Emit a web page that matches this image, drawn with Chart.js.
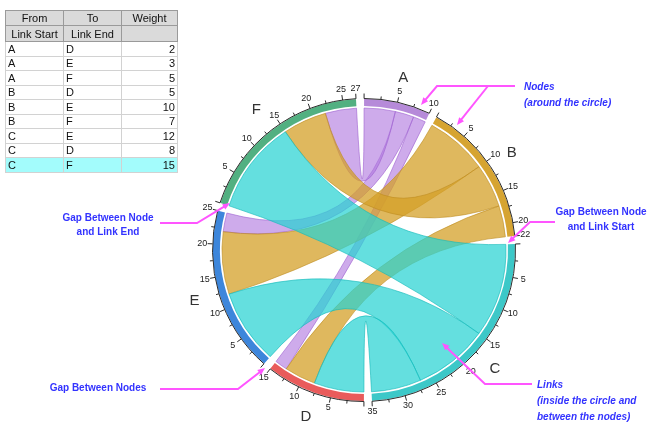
<!DOCTYPE html>
<html>
<head>
<meta charset="utf-8">
<script src="https://cdn.jsdelivr.net/npm/chart.js@4.4.1/dist/chart.umd.min.js"></script>
<style>
  html, body { margin: 0; padding: 0; background: #fff; }
  #wrap { position: relative; width: 650px; height: 432px; overflow: hidden; }
  #chord { position: absolute; left: 0; top: 0; }
  table.sheet {
    position: absolute; left: 5px; top: 10px;
    border-collapse: collapse; table-layout: fixed;
    font: 11px Arial, "Liberation Sans", sans-serif; color: #111;
    border: 1px solid #7a7a7a;
  }
  table.sheet td, table.sheet th {
    padding: 0 2px; border: 1px solid #d2d2d2; white-space: nowrap; overflow: hidden;
    font-weight: normal;
  }
  table.sheet th { background: #dadada; border-color: #9a9a9a; text-align: center; }
  table.sheet tr.h1 { height: 15px; }
  table.sheet tr.h2 { height: 16px; }
  table.sheet tr.row { height: 14.5px; }
  table.sheet td.num { text-align: right; }
  table.sheet tr.sel td { background: #a3fcfc; }
</style>
</head>
<body>
<div id="wrap">
  <canvas id="chord" width="650" height="432"></canvas>
  <table class="sheet" id="sheet"></table>
</div>
<script>
// nodes around the circle, clockwise from the top
const nodes = ["A", "B", "C", "D", "E", "F"];

// links (worksheet rows)
const linkFrom = ["A", "A", "A", "B", "B", "B", "C", "C", "C"];
const linkTo = ["D", "E", "F", "D", "E", "F", "E", "D", "F"];
const linkWeight = [2, 3, 5, 5, 10, 7, 12, 8, 15];

const nodeColors = ["#b68ad9", "#d6a431", "#3cc8c8", "#e95b5b", "#3d86db", "#52b081"];
const linkFill = { A: "rgba(176,120,222,0.62)", B: "rgba(212,160,40,0.75)", C: "rgba(40,210,210,0.72)" };
const linkEdge = { A: "rgba(160,100,210,0.8)", B: "rgba(190,140,30,0.75)", C: "rgba(20,185,185,0.8)" };

const GAP_UNITS = 1.2;
const RING_OUTER = 151;
const RING_INNER = 144;
const LINK_R = 142;
const MAJOR_STEP = 5;
const MINOR_STEP = 2.5;

const nodeTotals = nodes.map(n =>
  linkWeight.reduce((s, w, i) => s + (linkFrom[i] === n || linkTo[i] === n ? w : 0), 0)
);
const totalUnits = nodeTotals.reduce((a, b) => a + b, 0) + GAP_UNITS * nodes.length;
const gapDeg = 360 * GAP_UNITS / totalUnits;

// ring data: node, gap, node, gap ...
const ringData = [];
const ringColors = [];
nodeTotals.forEach((t, i) => {
  ringData.push(t, GAP_UNITS);
  ringColors.push(nodeColors[i], "rgba(0,0,0,0)");
});

// where each link sits on its two nodes: biggest weight first
const slots = linkWeight.map(() => ({}));
nodes.forEach(n => {
  const attached = [];
  linkWeight.forEach((w, i) => {
    if (linkFrom[i] === n) attached.push({ i, end: "from", w });
    if (linkTo[i] === n) attached.push({ i, end: "to", w });
  });
  attached.sort((a, b) => b.w - a.w);
  let pos = 0;
  attached.forEach(a => { slots[a.i][a.end] = pos; pos += a.w; });
});

// worksheet table
const sheet = document.getElementById("sheet");
sheet.innerHTML = `
  <colgroup><col style="width:58px"><col style="width:58px"><col style="width:56px"></colgroup>
  <tr class="h1"><th>From</th><th>To</th><th>Weight</th></tr>
  <tr class="h2"><th>Link Start</th><th>Link End</th><th></th></tr>
  ${linkWeight.map((w, i) => `
    <tr class="row${i === linkWeight.length - 1 ? " sel" : ""}">
      <td>${linkFrom[i]}</td><td>${linkTo[i]}</td><td class="num">${w}</td>
    </tr>`).join("")}
`;

function pt(cx, cy, r, a) {
  return [cx + r * Math.cos(a), cy + r * Math.sin(a)];
}

const chordPlugin = {
  id: "chord",
  afterDatasetsDraw(chart) {
    const ctx = chart.ctx;
    const arcs = chart.getDatasetMeta(0).data;
    const nodeArc = n => arcs[nodes.indexOf(n) * 2];
    const angleAt = (arc, total, v) => arc.startAngle + (arc.endAngle - arc.startAngle) * v / total;

    // links
    linkWeight.forEach((w, i) => {
      const sArc = nodeArc(linkFrom[i]);
      const tArc = nodeArc(linkTo[i]);
      const sTot = nodeTotals[nodes.indexOf(linkFrom[i])];
      const tTot = nodeTotals[nodes.indexOf(linkTo[i])];
      const cx = sArc.x, cy = sArc.y;
      const s0 = angleAt(sArc, sTot, slots[i].from);
      const s1 = angleAt(sArc, sTot, slots[i].from + w);
      const t0 = angleAt(tArc, tTot, slots[i].to);
      const t1 = angleAt(tArc, tTot, slots[i].to + w);
      ctx.save();
      ctx.beginPath();
      ctx.moveTo(...pt(cx, cy, LINK_R, s0));
      ctx.arc(cx, cy, LINK_R, s0, s1);
      ctx.quadraticCurveTo(cx, cy, ...pt(cx, cy, LINK_R, t0));
      ctx.arc(cx, cy, LINK_R, t0, t1);
      ctx.quadraticCurveTo(cx, cy, ...pt(cx, cy, LINK_R, s0));
      ctx.closePath();
      ctx.fillStyle = linkFill[linkFrom[i]];
      ctx.fill();
      ctx.lineWidth = 0.8;
      ctx.strokeStyle = linkEdge[linkFrom[i]];
      ctx.stroke();
      ctx.restore();
    });

    // axis line, ticks and labels of every node
    nodes.forEach((n, k) => {
      const arc = arcs[k * 2];
      const total = nodeTotals[k];
      const cx = arc.x, cy = arc.y;
      const rAxis = RING_OUTER + 0.5;
      ctx.save();
      ctx.strokeStyle = "#2a2a2a";
      ctx.lineWidth = 1;
      ctx.beginPath();
      ctx.arc(cx, cy, rAxis, arc.startAngle, arc.endAngle);
      ctx.stroke();

      const values = [];
      for (let v = 0; v <= total + 1e-9; v += MINOR_STEP) values.push(v);
      if (values[values.length - 1] !== total) values.push(total);
      ctx.font = "9px Arial, 'Liberation Sans', sans-serif";
      ctx.fillStyle = "#222";
      ctx.textAlign = "center";
      ctx.textBaseline = "middle";
      values.forEach(v => {
        const a = angleAt(arc, total, v);
        const major = v % MAJOR_STEP === 0 || v === total;
        const len = major ? 5 : 3;
        ctx.beginPath();
        ctx.moveTo(...pt(cx, cy, rAxis, a));
        ctx.lineTo(...pt(cx, cy, rAxis + len, a));
        ctx.stroke();
        if (major && v > 0) {
          ctx.fillText(String(v), ...pt(cx, cy, RING_OUTER + 11, a));
        }
      });

      const mid = (arc.startAngle + arc.endAngle) / 2;
      ctx.font = "15px Arial, 'Liberation Sans', sans-serif";
      ctx.fillStyle = "#333";
      ctx.fillText(n, ...pt(cx, cy, RING_OUTER + 26, mid));
      ctx.restore();
    });
  }
};

// callouts (annotation layer)
const notes = [
  { text: "Nodes", x: 524, y: 87, align: "left", italic: true },
  { text: "(around the circle)", x: 524, y: 103, align: "left", italic: true },
  { text: "Gap Between Node", x: 601, y: 212, align: "center" },
  { text: "and Link Start", x: 601, y: 227, align: "center" },
  { text: "Gap Between Node", x: 108, y: 218, align: "center" },
  { text: "and Link End", x: 108, y: 232, align: "center" },
  { text: "Gap Between Nodes", x: 98, y: 388, align: "center" },
  { text: "Links", x: 537, y: 385, align: "left", italic: true },
  { text: "(inside the circle and", x: 537, y: 401, align: "left", italic: true },
  { text: "between the nodes)", x: 537, y: 417, align: "left", italic: true }
];
const arrows = [
  [[515, 86], [437, 86], [421, 105]],
  [[488, 86], [457, 125]],
  [[555, 222], [530, 222], [508, 243]],
  [[160, 223], [197, 223], [230, 203]],
  [[160, 389], [238, 389], [265, 368]],
  [[532, 384], [485, 384], [442, 343]]
];

const calloutPlugin = {
  id: "callouts",
  afterDraw(chart) {
    const ctx = chart.ctx;
    ctx.save();
    ctx.strokeStyle = "#ff55ff";
    ctx.fillStyle = "#ff55ff";
    ctx.lineWidth = 2;
    arrows.forEach(line => {
      const [ex, ey] = line[line.length - 1];
      const [px, py] = line[line.length - 2];
      const ang = Math.atan2(ey - py, ex - px);
      const head = 8;
      ctx.beginPath();
      ctx.moveTo(...line[0]);
      line.slice(1, -1).forEach(p => ctx.lineTo(...p));
      ctx.lineTo(ex - Math.cos(ang) * head * 0.8, ey - Math.sin(ang) * head * 0.8);
      ctx.stroke();
      ctx.beginPath();
      ctx.moveTo(ex, ey);
      ctx.lineTo(ex - head * Math.cos(ang - 0.4), ey - head * Math.sin(ang - 0.4));
      ctx.lineTo(ex - head * Math.cos(ang + 0.4), ey - head * Math.sin(ang + 0.4));
      ctx.closePath();
      ctx.fill();
    });
    ctx.fillStyle = "#3333ff";
    ctx.textBaseline = "middle";
    notes.forEach(n => {
      ctx.font = `${n.italic ? "italic " : ""}bold 10px Arial, 'Liberation Sans', sans-serif`;
      ctx.textAlign = n.align;
      ctx.fillText(n.text, n.x, n.y);
    });
    ctx.restore();
  }
};

new Chart(document.getElementById("chord"), {
  type: "doughnut",
  data: {
    labels: nodes.flatMap(n => [n, ""]),
    datasets: [{
      data: ringData,
      backgroundColor: ringColors,
      borderWidth: 0,
      radius: RING_OUTER,
      cutout: `${(RING_INNER / RING_OUTER) * 100}%`
    }]
  },
  options: {
    responsive: false,
    animation: false,
    events: [],
    rotation: -1.5 + gapDeg / 2,
    layout: { padding: { left: 78, right: 0, top: 68, bottom: 0 } },
    plugins: { legend: { display: false }, tooltip: { enabled: false } }
  },
  plugins: [chordPlugin, calloutPlugin]
});
</script>
</body>
</html>
